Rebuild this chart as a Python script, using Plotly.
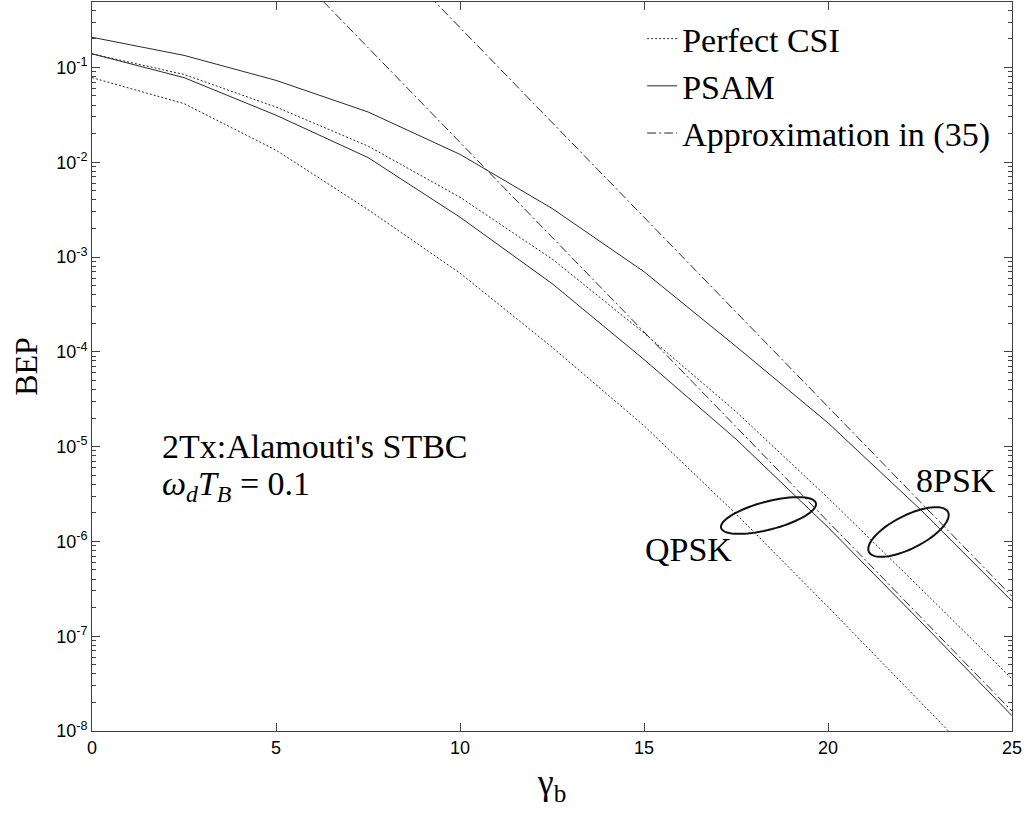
import math
import plotly.graph_objects as go

# SNR per bit (dB)
gamma_b = [0, 2.5, 5, 7.5, 10, 12.5, 15, 17.5, 20, 22.5, 25]

# Bit error probability, 2Tx Alamouti STBC, omega_d*T_B = 0.1
qpsk_perfect = [0.078, 0.0415, 0.0134, 3.16e-3, 6.76e-4, 1.12e-4, 1.66e-5, 1.95e-6, 2.04e-7, 2.04e-8, 2.04e-9]
qpsk_psam = [0.139, 0.078, 0.0313, 0.0112, 2.63e-3, 5.25e-4, 8.3e-5, 1.2e-5, 1.41e-6, 1.45e-7, 1.45e-8]
psk8_perfect = [0.139, 0.0843, 0.0382, 0.0148, 4.27e-3, 9.55e-4, 1.58e-4, 2.34e-5, 2.88e-6, 3.24e-7, 3.55e-8]
psk8_psam = [0.208, 0.134, 0.073, 0.0339, 0.0121, 3.26e-3, 7.0e-4, 1.14e-4, 1.78e-5, 2.19e-6, 2.34e-7]

# High-SNR approximation, eq. (35)
approx_gamma = [5, 7.5, 10, 12.5, 15, 17.5, 20, 22.5, 25]
qpsk_approx = [1.62, 0.162, 0.0162, 1.62e-3, 1.62e-4, 1.62e-5, 1.62e-6, 1.62e-7, 1.62e-8]
psk8_approx = [26.3, 2.63, 0.263, 0.0263, 2.63e-3, 2.63e-4, 2.63e-5, 2.63e-6, 2.63e-7]

x_ticks = [0, 5, 10, 15, 20, 25]
y_ticks = [1e-8, 1e-7, 1e-6, 1e-5, 1e-4, 1e-3, 1e-2, 1e-1]
y_ticktext = ["10<sup>-8</sup>", "10<sup>-7</sup>", "10<sup>-6</sup>", "10<sup>-5</sup>",
              "10<sup>-4</sup>", "10<sup>-3</sup>", "10<sup>-2</sup>", "10<sup>-1</sup>"]

W, H = 1027, 814
PL, PR, PT, PB = 92, 1012, 2, 731   # plot area in pixels

LINE = "#2a2a2a"
DOT = "2px,2px"
DASHDOT = "9px,3px,2px,3px"
SERIF = "Liberation Serif"
SANS = "Liberation Sans"

fig = go.Figure()

def add(x, y, name, dash, show):
    fig.add_trace(go.Scatter(
        x=x, y=y, mode="lines", name=name, showlegend=show,
        line=dict(color=LINE, width=1, dash=dash),
    ))

add(gamma_b, qpsk_perfect, "Perfect CSI", DOT, True)
add(gamma_b, qpsk_psam, "PSAM", "solid", True)
add(approx_gamma, qpsk_approx, "Approximation in (35)", DASHDOT, True)
add(gamma_b, psk8_perfect, "Perfect CSI", DOT, False)
add(gamma_b, psk8_psam, "PSAM", "solid", False)
add(approx_gamma, psk8_approx, "Approximation in (35)", DASHDOT, False)


def px_to_paper(x, y):
    return (x - PL) / (PR - PL), (PB - y) / (PB - PT)


def ellipse_path(cx, cy, a, b, deg, n=72):
    th = math.radians(deg)
    pts = []
    for k in range(n):
        t = 2 * math.pi * k / n
        x = cx + a * math.cos(t) * math.cos(th) - b * math.sin(t) * math.sin(th)
        y = cy - (a * math.cos(t) * math.sin(th) + b * math.sin(t) * math.cos(th))
        px, py = px_to_paper(x, y)
        pts.append(f"{px:.5f},{py:.5f}")
    return "M" + " L".join(pts) + " Z"


for cx, cy, a, b, deg in [(768.5, 515.5, 49, 14, 14.7), (908.5, 532, 44.3, 16.5, 26.9)]:
    fig.add_shape(type="path", xref="paper", yref="paper",
                  path=ellipse_path(cx, cy, a, b, deg),
                  line=dict(color="#111111", width=2))


def note(text, x, y, xanchor="left"):
    px, py = px_to_paper(x, y)
    fig.add_annotation(text=text, x=px, y=py, xref="paper", yref="paper",
                       xanchor=xanchor, yanchor="middle", showarrow=False,
                       font=dict(family=SERIF, size=34, color="black"))


note("2Tx:Alamouti's STBC", 160, 446)
note("<i>ω</i><sub><i>d</i></sub><i>T</i><sub><i>B</i></sub> = 0.1", 160, 486)
note("QPSK", 688, 549, "center")
note("8PSK", 956, 480, "center")

axis_common = dict(
    showline=True, linecolor="#404040", linewidth=1, mirror="ticks",
    ticks="inside", ticklen=8, tickcolor="#404040", showgrid=False, zeroline=False,
    tickfont=dict(family=SANS, size=18, color="black"),
)

minor_vals = [m * 10.0 ** e for e in range(-8, 0) for m in range(2, 10)]

fig.update_layout(
    width=W, height=H, autosize=False,
    margin=dict(l=PL, r=W - PR, t=PT, b=H - PB),
    paper_bgcolor="white", plot_bgcolor="white",
    font=dict(family=SERIF, color="black"),
    xaxis=dict(range=[0, 25], tickmode="array", tickvals=x_ticks,
               title=dict(text="γ<sub>b</sub>", font=dict(family=SERIF, size=36, color="black"), standoff=12),
               **axis_common),
    yaxis=dict(type="log", range=[-8, -0.31], tickmode="array", tickvals=y_ticks, ticktext=y_ticktext,
               minor=dict(ticks="inside", ticklen=4, tickcolor="#404040", tickmode="array", tickvals=minor_vals),
               title=dict(text="BEP", font=dict(family=SERIF, size=32, color="black"), standoff=8),
               **axis_common),
    legend=dict(x=0.598, y=0.989, xanchor="left", yanchor="top", bgcolor="rgba(0,0,0,0)",
                font=dict(family=SERIF, size=34, color="black"), tracegroupgap=0),
)

fig.write_html("out.html")
